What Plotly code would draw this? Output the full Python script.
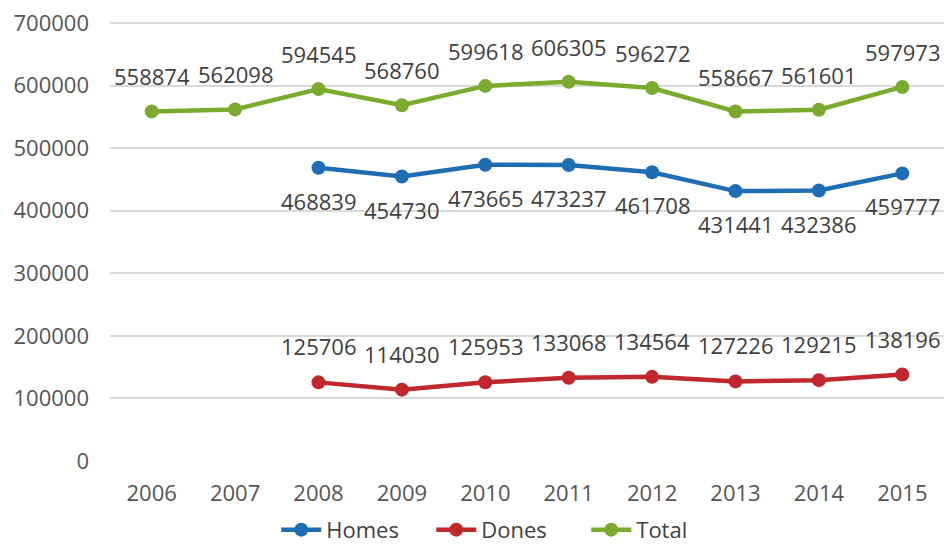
import plotly.graph_objects as go

years = [2006, 2007, 2008, 2009, 2010, 2011, 2012, 2013, 2014, 2015]
homes = [None, None, 468839, 454730, 473665, 473237, 461708, 431441, 432386, 459777]
dones = [None, None, 125706, 114030, 125953, 133068, 134564, 127226, 129215, 138196]
total = [558874, 562098, 594545, 568760, 599618, 606305, 596272, 558667, 561601, 597973]
y_ticks = [0, 100000, 200000, 300000, 400000, 500000, 600000, 700000]

FONT = "Open Sans"
GREY = "#555555"
LABEL = "#404040"

series = [
    ("Homes", homes, "#1f6db3", -33),
    ("Dones", dones, "#c0282d", 36),
    ("Total", total, "#7aab2e", 35),
]

fig = go.Figure()
annotations = []
for name, vals, color, shift in series:
    fig.add_trace(go.Scatter(
        x=years, y=vals, name=name, mode="lines+markers",
        line=dict(color=color, width=4.5),
        marker=dict(color=color, size=14),
    ))
    # data labels, offset above / below the markers
    for yr, v in zip(years, vals):
        if v is None:
            continue
        annotations.append(dict(
            x=yr, y=v, text=str(v), showarrow=False, yshift=shift,
            font=dict(family=FONT, size=22, color=LABEL),
        ))

# sized to fit inside the page body (8px default margin) without scrollbars
fig.update_layout(
    width=936, height=538,
    margin=dict(l=102, r=0, t=12, b=85, autoexpand=False),
    paper_bgcolor="white", plot_bgcolor="white",
    font=dict(family=FONT, size=22, color=GREY),
    annotations=annotations,
    showlegend=True,
    legend=dict(orientation="h", xref="container", yref="container",
                x=0.535, xanchor="center", y=0.03, yanchor="middle",
                font=dict(size=22, color=LABEL), entrywidth=100, itemwidth=40),
)
fig.update_xaxes(range=[years[0] - 0.5, years[-1] + 0.5], dtick=1, tickformat="d",
                 showgrid=False, showline=False, zeroline=False, ticks="",
                 automargin=False, ticklabelstandoff=17, tickfont=dict(size=22, color=GREY))
fig.update_yaxes(range=[0, 705000], tickmode="array", tickvals=y_ticks,
                 ticktext=[str(t) for t in y_ticks], ticklabeloverflow="allow",
                 showgrid=True, gridcolor="#d9d9d9", gridwidth=1.5, zeroline=False,
                 automargin=False, ticklabelstandoff=20, tickfont=dict(size=22, color=GREY))

fig.write_html("out.html")
